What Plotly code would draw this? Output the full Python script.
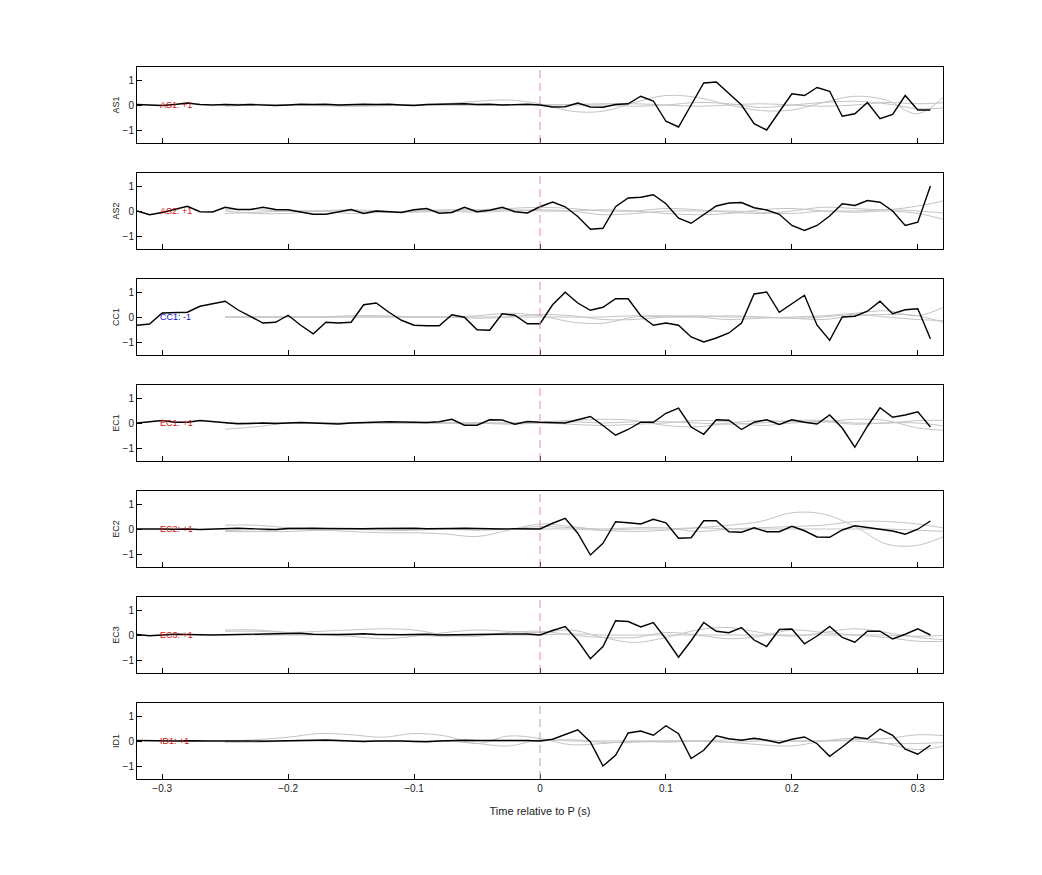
import plotly.graph_objects as go

stations = ["AS1", "AS2", "CC1", "EC1", "EC2", "EC3", "ID1"]
labels = ["AS1: +1", "AS2: +1", "CC1: -1", "EC1: +1", "EC2: +1", "EC3: +1", "ID1: +1"]
label_colors = ["#d01010", "#d01010", "#1010d0", "#d01010", "#d01010", "#d01010", "#d01010"]
dash_colors = ["#e89090"] * 6 + ["#aaaaaa"]

t = [round(-0.32 + 0.01 * i, 2) for i in range(64)]
g = [round(-0.25 + 0.025 * i, 3) for i in range(24)]

black = {
"AS1": [0.02, 0, -0.02, 0.02, 0.08, 0.02, 0, 0.02,
        0, 0.02, 0, -0.02, 0, 0.03, 0.02, 0.03,
        0, 0.02, 0.03, 0.02, 0.03, 0, -0.02, 0.02,
        0.03, 0.02, 0.05, 0.02, 0.03, 0, 0.02, 0.03,
        0, -0.08, -0.07, 0.08, -0.08, -0.09, 0.02, 0.05,
        0.35, 0.16, -0.65, -0.88, 0.0, 0.88, 0.92, 0.45,
        0.0, -0.75, -1.0, -0.27, 0.45, 0.38, 0.7, 0.55,
        -0.45, -0.35, 0.1, -0.55, -0.38, 0.38, -0.2, -0.2],
"AS2": [0, -0.15, -0.06, 0.06, 0.19, -0.03, -0.04, 0.15,
        0.06, 0.06, 0.15, 0.06, 0.05, -0.04, -0.13, -0.13,
        -0.04, 0.06, -0.1, 0, -0.03, -0.06, 0.05, 0.1,
        -0.09, -0.06, 0.15, -0.03, 0.03, 0.15, -0.03, -0.08,
        0.17, 0.36, 0.17, -0.22, -0.73, -0.69, 0.17, 0.52,
        0.55, 0.65, 0.29, -0.29, -0.49, -0.13, 0.2, 0.32,
        0.34, 0.13, 0.04, -0.13, -0.58, -0.78, -0.58, -0.2,
        0.29, 0.22, 0.42, 0.35, 0, -0.58, -0.45, 1.0],
"CC1": [-0.33, -0.28, 0.16, 0.16, 0.19, 0.43, 0.52, 0.63,
        0.29, 0.03, -0.24, -0.21, 0.07, -0.33, -0.67, -0.21,
        -0.24, -0.21, 0.49, 0.56, 0.19, -0.13, -0.33, -0.35,
        -0.35, 0.09, -0.01, -0.51, -0.53, 0.13, 0.07, -0.27,
        -0.27, 0.49, 0.99, 0.56, 0.27, 0.39, 0.73, 0.73,
        0.05, -0.33, -0.24, -0.33, -0.8, -1.0, -0.84, -0.64,
        -0.24, 0.92, 1.0, 0.19, 0.52, 0.87, -0.33, -0.93,
        0, 0.03, 0.23, 0.63, 0.13, 0.29, 0.33, -0.87],
"EC1": [0, 0.06, 0.1, 0.03, 0.03, 0.1, 0.05, 0,
        -0.03, -0.02, 0, -0.02, 0, 0.02, 0, -0.02,
        -0.04, 0, 0.02, 0.03, 0.05, 0.04, 0.02, 0.02,
        0.05, 0.15, -0.09, -0.09, 0.13, 0.12, -0.05, 0.06,
        0.03, 0.03, 0, 0.13, 0.26, -0.1, -0.49, -0.26,
        0.03, 0.03, 0.39, 0.6, -0.16, -0.45, 0.13, 0.11,
        -0.26, 0.03, 0.13, -0.06, 0.13, 0.03, -0.04, 0.32,
        -0.2, -0.97, -0.13, 0.61, 0.23, 0.32, 0.45, -0.16],
"EC2": [0, 0.01, 0, -0.01, 0, -0.02, 0, 0.02,
        0.03, 0.01, 0, -0.02, 0.02, 0.04, 0.03, 0.02,
        0.01, 0, 0.01, 0.02, 0.03, 0.02, 0.03, 0.01,
        0, 0.02, 0.03, 0.02, -0.01, 0, 0.01, 0,
        0, 0.23, 0.43, -0.17, -1.04, -0.57, 0.29, 0.25,
        0.2, 0.39, 0.25, -0.37, -0.35, 0.33, 0.33, -0.11,
        -0.13, 0.05, -0.11, -0.11, 0.11, -0.07, -0.32, -0.33,
        -0.04, 0.13, 0.07, -0.01, -0.08, -0.21, -0.01, 0.32],
"EC3": [0.02, -0.03, 0, 0.03, 0.02, 0, 0, 0.01,
        0.02, 0.03, 0.05, 0.03, 0.05, 0.07, 0.03, 0.01,
        0.02, 0.03, 0.05, 0.02, 0, 0.01, 0.02, 0.03,
        0, 0.01, 0.02, 0.02, 0.03, 0.03, 0.04, 0.04,
        0, 0.18, 0.34, -0.23, -0.95, -0.46, 0.57, 0.54,
        0.32, 0.5, -0.16, -0.89, -0.23, 0.5, 0.15, 0.09,
        0.3, -0.2, -0.46, 0.22, 0.24, -0.35, -0.04, 0.34,
        -0.1, -0.29, 0.15, 0.15, -0.16, 0.03, 0.25, 0],
"ID1": [0.02, 0.01, 0.02, 0, 0.01, 0.02, 0, 0,
        0.01, 0, -0.01, 0, 0.01, 0.03, 0.05, 0.04,
        0.02, -0.01, -0.02, 0, 0.01, 0, -0.02, -0.03,
        0, 0.02, 0.03, 0.02, 0.03, 0.03, 0.02, 0.02,
        0, 0.07, 0.27, 0.45, -0.04, -1.0, -0.57, 0.32,
        0.4, 0.23, 0.61, 0.29, -0.7, -0.37, 0.21, 0.09,
        0.03, 0.11, 0.03, -0.08, 0.07, 0.16, -0.11, -0.61,
        -0.24, 0.16, 0.09, 0.48, 0.23, -0.33, -0.53, -0.17],
}

grey = {
"AS1": [[0, 0, 0, -0.03, -0.05, -0.02, 0, 0.05, 0.15, 0.2, 0.05, -0.25, -0.25, 0.1, 0.38, 0.3, 0, -0.22, -0.2, 0.1, 0.35, 0.2, -0.35, 0.55],
        [0.03, 0.03, 0, 0, -0.03, -0.03, 0, 0, 0, 0, 0, 0.02, 0.05, 0.05, 0, -0.05, 0, 0.05, 0, -0.05, 0, 0.1, 0.05, 0.1],
        [-0.05, 0, 0.02, 0, 0, 0, 0, 0, 0, 0, 0.02, 0, 0, -0.05, 0, 0.1, 0.05, -0.1, 0, 0.1, 0.15, 0.05, -0.15, -0.1]],
"AS2": [[0.05, 0.05, 0, 0, 0, -0.05, 0, 0.05, 0.05, 0.1, 0.15, 0.1, 0, 0, 0.1, 0.05, -0.05, -0.1, 0, 0.15, 0.1, 0.05, 0.2, 0.45],
        [-0.1, -0.05, 0, 0, -0.1, -0.05, 0, 0, -0.05, 0, 0.05, 0, -0.15, -0.1, 0, 0, 0, -0.05, -0.1, 0, 0, 0.05, 0, -0.1],
        [0, -0.1, -0.1, 0, 0.05, 0, -0.05, 0, 0, 0.05, 0, 0, 0.05, 0, -0.1, -0.15, -0.1, 0.05, 0.1, 0, -0.05, 0, -0.1, -0.4]],
"CC1": [[0, 0, 0, 0, 0.05, 0.05, 0, 0, 0.05, 0.15, 0.05, -0.2, -0.25, 0, 0.05, 0, -0.1, -0.05, 0, 0.05, 0.15, 0.25, 0.05, 0.5],
        [0, 0, 0, 0, 0, 0, 0, 0, -0.05, 0, 0.1, 0.05, -0.1, -0.1, 0, 0.05, 0, 0, -0.05, -0.1, 0.05, 0.1, 0.05, -0.3],
        [0, 0, 0, 0, 0, 0, 0, 0, 0, 0, 0, 0, 0, 0.05, 0, 0, 0.05, 0, -0.05, 0, 0.1, 0, -0.1, -0.15]],
"EC1": [[-0.25, -0.15, 0, 0, 0, 0, 0, 0, 0, 0, 0.05, 0.1, 0.15, 0.1, -0.1, -0.15, 0, 0.1, 0.05, 0.05, 0.15, 0.1, -0.2, -0.3],
        [0, 0, 0, 0, 0, 0, 0, 0, 0, -0.05, 0, 0.05, 0, 0.05, 0.05, 0, -0.05, 0, 0.1, 0.1, 0, 0, 0.1, 0.1],
        [0, 0, 0, 0, 0, 0, 0, 0, 0, 0, 0, -0.05, -0.1, -0.05, 0, 0.1, 0.05, -0.1, 0, 0.05, -0.05, 0, 0, -0.15]],
"EC2": [[-0.05, -0.1, -0.1, -0.05, -0.1, -0.15, -0.15, -0.2, -0.3, -0.05, 0.2, 0.1, -0.05, -0.1, -0.05, 0.05, 0.15, 0.3, 0.65, 0.6, 0.1, -0.6, -0.65, -0.2],
        [0.15, 0.15, 0.05, 0, 0, -0.05, -0.05, 0, -0.05, 0, 0.1, 0.05, 0, 0.05, 0.05, -0.1, 0, 0.05, 0.1, 0.15, 0.3, 0.3, 0.2, 0],
        [-0.1, -0.1, 0, 0, 0, 0, 0, 0, 0, 0, 0, 0, -0.05, 0, 0, 0.05, 0, 0, 0, 0, 0, 0, -0.05, -0.1]],
"EC3": [[0.2, 0.2, 0.1, 0, -0.05, -0.15, -0.05, 0.1, 0.2, 0.15, 0.1, 0.2, -0.1, -0.3, -0.1, 0.2, 0.3, 0.1, -0.05, 0.1, 0.25, 0.1, -0.1, -0.2],
        [0.15, 0.15, 0.1, 0.15, 0.2, 0.25, 0.2, 0, -0.05, 0.1, 0.15, 0, -0.1, -0.1, 0.1, 0, -0.15, -0.05, 0.2, 0.1, 0, -0.1, -0.25, -0.25],
        [0, 0, 0, 0, 0, 0.05, 0, -0.05, 0, 0, 0, 0.05, 0, 0, 0, 0, 0, 0, 0, 0, 0, 0, -0.05, 0]],
"ID1": [[0, 0.05, 0.15, 0.3, 0.25, 0.15, 0.3, 0.2, -0.1, 0.2, 0.1, -0.15, -0.1, 0, 0, 0, -0.05, -0.15, -0.2, 0, 0.1, -0.1, -0.35, -0.15],
        [-0.05, -0.05, 0, 0, 0, 0, 0, 0, -0.1, -0.2, 0.05, 0, 0, 0, -0.05, 0, -0.05, 0, 0, 0, 0.05, 0.1, 0.25, 0.2],
        [0, 0, 0, 0, 0, 0, 0, 0, 0, 0, 0, 0.05, -0.05, -0.05, 0, 0, 0.05, 0.05, 0, 0, 0, -0.1, -0.1, -0.05]],
}

H = 875.0
fig = go.Figure()
layout = {}
for i, s in enumerate(stations):
    n = "" if i == 0 else str(i + 1)
    xa, ya = "x" + n, "y" + n
    for gv in grey[s]:
        fig.add_trace(go.Scatter(x=g, y=gv, mode="lines", line=dict(color="#c4c4c4", width=1, shape="spline"),
                                 xaxis=xa, yaxis=ya, showlegend=False, hoverinfo="skip"))
    fig.add_trace(go.Scatter(x=t, y=black[s], mode="lines", line=dict(color="black", width=1.4),
                             xaxis=xa, yaxis=ya, showlegend=False))
    top = 59 + 106 * i
    bot = top + 76
    layout["xaxis" + n] = dict(range=[-0.32, 0.32], domain=[0, 1], anchor=ya, showline=True, mirror=True,
                               linecolor="black", linewidth=1, ticks="inside", ticklen=5, tickcolor="black",
                               tickvals=[-0.3, -0.2, -0.1, 0, 0.1, 0.2, 0.3], showgrid=False, zeroline=False,
                               showticklabels=(i == 6), tickfont=dict(size=10, color="#222"))
    layout["yaxis" + n] = dict(range=[-1.52, 1.52], domain=[1 - bot / H, 1 - top / H], anchor=xa,
                               showline=True, mirror=True, linecolor="black", linewidth=1, ticks="inside",
                               ticklen=5, tickcolor="black", tickvals=[-1, 0, 1], showgrid=False, zeroline=False,
                               tickfont=dict(size=10, color="#222"),
                               title=dict(text=s, font=dict(size=9, color="#222"), standoff=1))
    fig.add_shape(type="line", x0=0, x1=0, y0=-1.52, y1=1.52, xref=xa, yref=ya,
                  line=dict(color=dash_colors[i], width=1, dash="8px,5px"))
    fig.add_annotation(x=-0.303, y=0, xref=xa, yref=ya, text=labels[i], showarrow=False, xanchor="left",
                       font=dict(size=9, color=label_colors[i]))

layout["xaxis7"]["title"] = dict(text="Time relative to P (s)", font=dict(size=11, color="#222"), standoff=14)
fig.update_layout(**layout)
fig.update_layout(width=1042, height=875, margin=dict(l=129, r=107, t=0, b=0, autoexpand=False),
                  plot_bgcolor="white", paper_bgcolor="white",
                  font=dict(family="Liberation Sans, Arial, sans-serif"))
fig.write_html("out.html")
